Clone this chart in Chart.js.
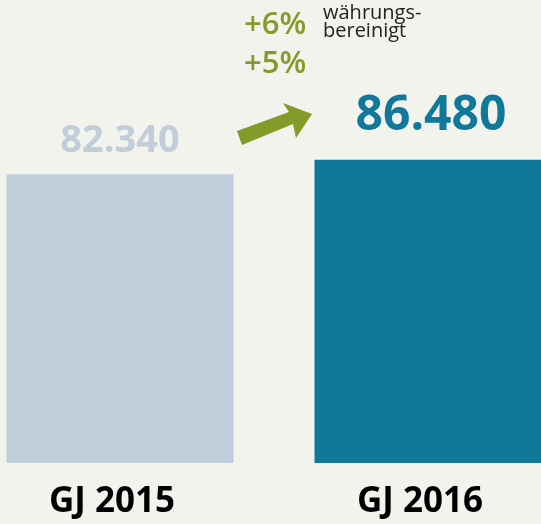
<!DOCTYPE html>
<html>
<head>
<meta charset="utf-8">
<script src="https://cdn.jsdelivr.net/npm/chart.js@4/dist/chart.umd.min.js"></script>
<style>
  html, body { margin: 0; padding: 0; background: #f3f3ee; overflow: hidden; }
  #wrap { position: relative; width: 616px; height: 524px; margin-left: -34px; }
</style>
</head>
<body>
<div id="wrap"><canvas id="revenueChart"></canvas></div>
<script>
// Umsatz in Mio. EUR
const years = ['GJ 2015', 'GJ 2016'];
const revenue = [82340, 86480];
const barColors = ['#c0ceda', '#11789b'];
const labelColors = ['#c1cdd9', '#11789b'];
const growthNominal = '+5%';
const growthAdjusted = '+6%';
const adjustedNote = ['währungs-', 'bereinigt'];

const GREEN = '#849a29';
const OFFSET = 34; // canvas is shifted left by this much

function fmt(v) {
    return v.toLocaleString('de-DE');
}

// value labels above the bars + growth annotation
const annotations = {
    id: 'annotations',
    afterDatasetsDraw(chart) {
        const ctx = chart.ctx;
        const meta = chart.getDatasetMeta(0);
        ctx.save();
        ctx.textAlign = 'center';
        ctx.textBaseline = 'alphabetic';
        meta.data.forEach((bar, i) => {
            const big = i === 1;
            ctx.font = 'bold ' + (big ? 48 : 38) + 'px "Open Sans"';
            ctx.fillStyle = labelColors[i];
            ctx.fillText(fmt(revenue[i]), bar.x + (big ? 3 : 0), bar.y - (big ? 30 : 22));
        });

        // growth arrow
        const pts = [[237, 131], [289, 112], [283, 103], [312, 114], [296, 138], [293, 124], [242, 145]];
        ctx.fillStyle = GREEN;
        ctx.beginPath();
        pts.forEach((p, i) => {
            if (i === 0) ctx.moveTo(p[0] + OFFSET, p[1]);
            else ctx.lineTo(p[0] + OFFSET, p[1]);
        });
        ctx.closePath();
        ctx.fill();

        ctx.textAlign = 'left';
        ctx.font = '600 31px "Open Sans"';
        ctx.fillText(growthAdjusted, 244 + OFFSET, 34);
        ctx.fillText(growthNominal, 244 + OFFSET, 73);

        ctx.fillStyle = '#222';
        ctx.font = '20px "Open Sans"';
        ctx.fillText(adjustedNote[0], 323 + OFFSET, 19);
        ctx.fillText(adjustedNote[1], 323 + OFFSET, 37);
        ctx.restore();
    }
};

function renderRevenueChart() {
    const ctx = document.getElementById('revenueChart').getContext('2d');
    new Chart(ctx, {
        type: 'bar',
        data: {
            labels: years,
            datasets: [{
                data: revenue,
                backgroundColor: barColors,
                borderWidth: 0,
                barPercentage: 0.737,
                categoryPercentage: 1.0
            }]
        },
        options: {
            responsive: true,
            maintainAspectRatio: false,
            animation: false,
            layout: { padding: 0 },
            plugins: {
                legend: { display: false },
                tooltip: { enabled: false }
            },
            scales: {
                x: {
                    grid: { display: false, drawTicks: false },
                    border: { display: false },
                    ticks: {
                        color: '#000',
                        padding: 18,
                        labelOffset: -8,
                        font: { family: '"Open Sans"', size: 35, weight: 'bold', lineHeight: 1.2 }
                    },
                    afterFit(scale) {
                        scale.height = 61;
                    }
                },
                y: {
                    display: false,
                    min: 0,
                    max: 132000
                }
            }
        },
        plugins: [annotations]
    });
}

document.addEventListener('DOMContentLoaded', renderRevenueChart);
</script>
</body>
</html>
